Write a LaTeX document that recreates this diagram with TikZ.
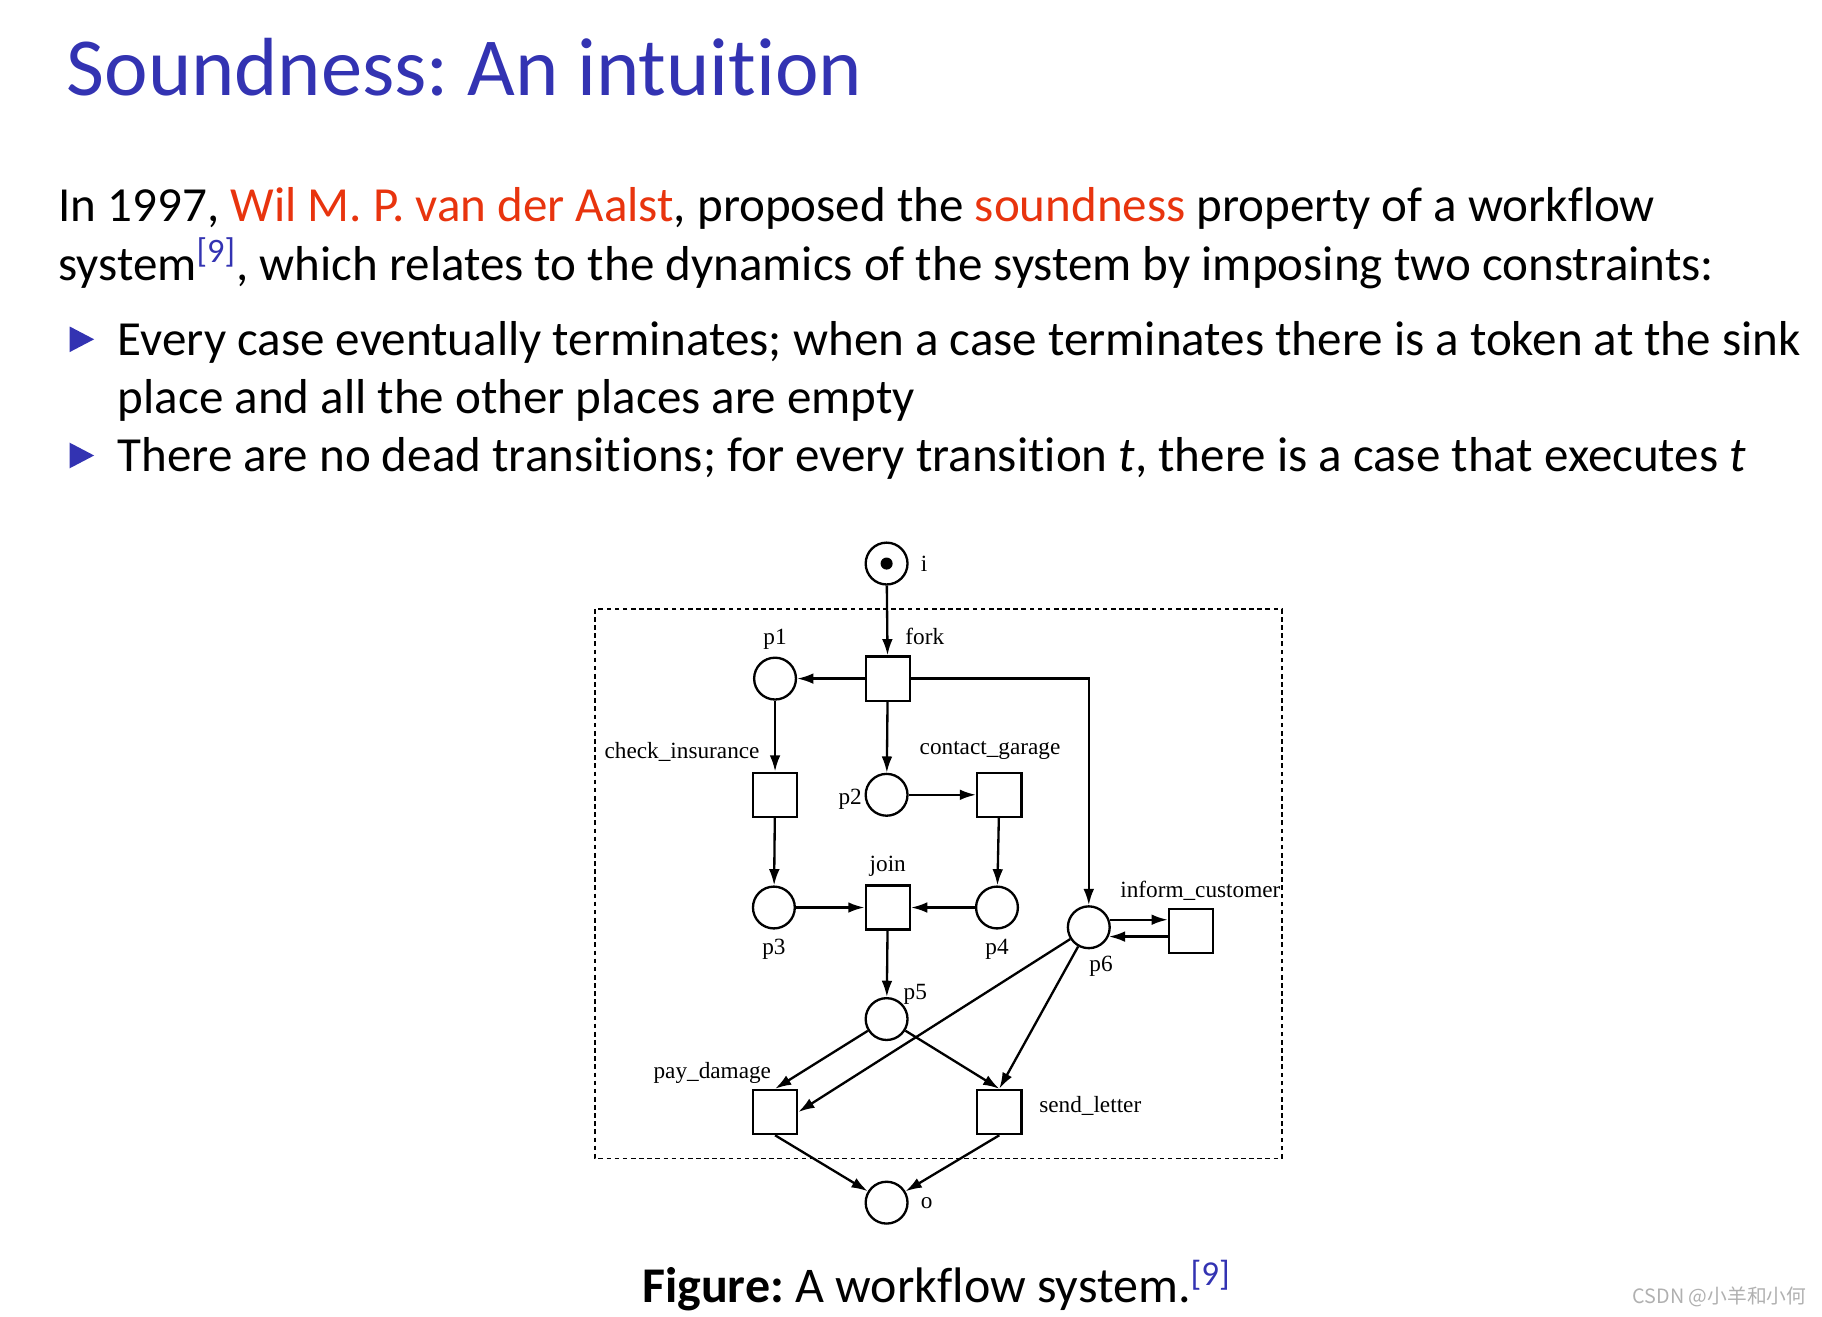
\documentclass[tikz,border=0pt]{standalone}
\usepackage{fontspec}
\setmainfont{Carlito}[Ligatures=NoCommon]
\newfontfamily\netfont{Liberation Serif}
\newfontfamily\cjkfont{Noto Sans CJK SC}
\usetikzlibrary{positioning,arrows.meta}
\definecolor{headblue}{HTML}{3333B2}
\definecolor{namered}{HTML}{E8340E}
\definecolor{markgray}{HTML}{B0B0B0}
\frenchspacing

\begin{document}
\begin{tikzpicture}[x=0.5pt,y=-0.5pt,
  place/.style={draw,circle,line width=1pt,minimum size=18pt,inner sep=0pt},
  trans/.style={draw,rectangle,line width=1pt,minimum size=19pt,inner sep=0pt},
  lbl/.style={font=\netfont\fontsize{10}{11}\selectfont,inner sep=1pt},
  arc/.style={-{Latex[length=7pt,width=4.6pt]},line width=1pt},
  body/.style={font=\fontsize{21.1}{25}\selectfont,align=left,anchor=base west,inner sep=0pt},
  bullet/.style={fill=headblue},
  label distance=2pt]
\useasboundingbox (0,0) rectangle (1568,1133);
% slide text
\node[font=\fontsize{35.5}{42}\selectfont,text=headblue,anchor=base west,inner sep=0pt] (title) at (57,82) {Soundness: An intuition};
\node[body] (intro) at (50,241) {In 1997, \textcolor{namered}{Wil M. P. van der Aalst}, proposed the \textcolor{namered}{soundness} property of a workflow\\
system\textsuperscript{\textcolor{headblue}{[9]}}, which relates to the dynamics of the system by imposing two constraints:};
\node[body] (c1) at (101,356) {Every case eventually terminates; when a case terminates there is a token at the sink\\
place and all the other places are empty};
\node[body] (c2) at (101,406) {There are no dead transitions; for every transition \textit{t}, there is a case that executes \textit{t}};
\fill[bullet] (60,281) -- (81,292) -- (60,303) -- cycle;
\fill[bullet] (60,381) -- (81,392) -- (60,403) -- cycle;
% workflow net
\draw[line width=0.8pt,dash pattern=on 2pt off 1.5pt] (512,524) rectangle (1103,997);
\node[place,label={[lbl,label distance=4pt]right:i}] (i) at (763,485) {};
\fill (i) circle (2.6pt);
\node[trans,label={[lbl,xshift=-5pt,yshift=2pt]above right:fork}] (fork) at (764,584) {};
\node[place,label={[lbl]above:p1}] (p1) at (667,584) {};
\node[trans,label={[lbl,xshift=-40pt,label distance=3pt]above:check\_insurance}] (check) at (667,684) {};
\node[place,label={[lbl,label distance=0pt,yshift=-2pt]left:p2}] (p2) at (763,684) {};
\node[trans,label={[lbl,xshift=-4pt,label distance=4pt]above:contact\_garage}] (contact) at (860,684) {};
\node[place,label={[lbl,label distance=3pt]below:p3}] (p3) at (666,781) {};
\node[trans,label={[lbl,label distance=2pt]above:join}] (join) at (764,781) {};
\node[place,label={[lbl,label distance=3pt]below:p4}] (p4) at (858,781) {};
\node[place,label={[lbl,anchor=north,label distance=3pt]-65:p6}] (p6) at (937,798) {};
\node[trans,label={[lbl,xshift=4pt,label distance=2pt]above:inform\_customer}] (inform) at (1025,801) {};
\node[place,label={[lbl,xshift=-2pt,yshift=-3pt]45:p5}] (p5) at (763,877) {};
\node[trans,label={[lbl,xshift=-27pt,label distance=1pt]above:pay\_damage}] (pay) at (667,957) {};
\node[trans,label={[lbl,label distance=6pt,yshift=2.5pt]right:send\_letter}] (send) at (860,957) {};
\node[place,label={[lbl,label distance=4pt]right:o}] (o) at (763,1035) {};
\draw[arc] (i) -- (fork);
\draw[arc] (fork) -- (p1);
\draw[arc] (fork) -- (p2);
\draw[arc] (fork.east) -| (p6.north);
\draw[arc] (p1) -- (check);
\draw[arc] (p2) -- (contact);
\draw[arc] (check) -- (p3);
\draw[arc] (contact) -- (p4);
\draw[arc] (p3) -- (join);
\draw[arc] (p4) -- (join);
\draw[arc] (join) -- (p5);
\draw[arc] (p6.20) -- (p6.20 -| inform.west);
\draw[arc] (inform.west |- p6.-25) -- (p6.-25);
\draw[arc] (p5) -- (pay.north);
\draw[arc] (p5) -- (send.north);
\draw[arc] (p6) -- (pay.east);
\draw[arc] (p6) -- (send.north);
\draw[arc] (pay.south) -- (o);
\draw[arc] (send.south) -- (o);
% caption and mark
\node[font=\fontsize{21.5}{25}\selectfont,anchor=base,inner sep=0pt] (caption) at (806,1121) {\textbf{Figure:} A workflow system.\textsuperscript{\textcolor{headblue}{[9]}}};
\node[font=\cjkfont\fontsize{8.5}{10}\selectfont,text=markgray,anchor=base east,inner sep=0pt] (mark) at (1555,1122) {CSDN @小羊和小何};
\end{tikzpicture}
\end{document}
